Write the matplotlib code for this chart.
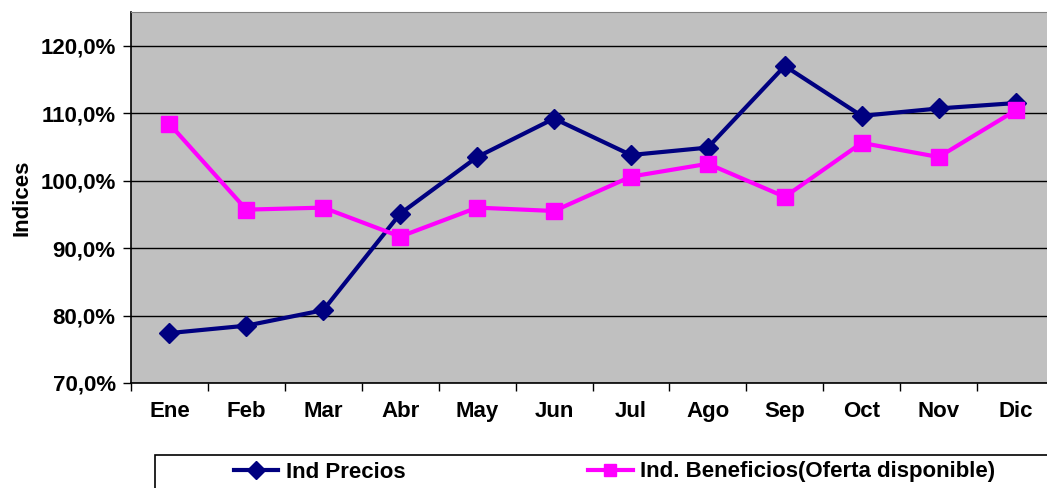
import matplotlib.pyplot as plt
from matplotlib.patches import Rectangle
from matplotlib.ticker import FuncFormatter, MultipleLocator
from matplotlib import font_manager

months = ['Ene', 'Feb', 'Mar', 'Abr', 'May', 'Jun', 'Jul', 'Ago', 'Sep', 'Oct', 'Nov', 'Dic']
ind_precios = [77.4, 78.5, 80.8, 95.1, 103.5, 109.2, 103.8, 104.9, 117.0, 109.6, 110.7, 111.5]
ind_beneficios = [108.4, 95.7, 96.0, 91.7, 96.0, 95.5, 100.6, 102.5, 97.6, 105.6, 103.5, 110.4]
series_names = ['Ind Precios', 'Ind. Beneficios(Oferta disponible)']

names = {f.name for f in font_manager.fontManager.ttflist}
font = 'Liberation Sans Narrow' if 'Liberation Sans Narrow' in names else 'Liberation Sans'
plt.rcParams['font.family'] = [font, 'DejaVu Sans']
plt.rcParams['font.weight'] = 'bold'

W, H = 1047, 488
fig = plt.figure(figsize=(W / 100, H / 100), dpi=100)
fig.patch.set_facecolor('white')

# plot area in pixels: left 131, top 12, bottom 383, right past edge
ax = fig.add_axes([131 / W, 1 - 383 / H, (1054 - 131) / W, (383 - 12) / H])
ax.set_facecolor('#c0c0c0')

x = list(range(len(months)))
ax.plot(x, ind_precios, color='#000080', lw=3, marker='D', ms=10, label=series_names[0], zorder=3)
ax.plot(x, ind_beneficios, color='#ff00ff', lw=3, marker='s', ms=11, label=series_names[1], zorder=3)

ax.set_xlim(-0.5, len(months) - 0.5)
ax.set_ylim(70, 125)
ax.yaxis.set_major_locator(MultipleLocator(10))
ax.yaxis.set_major_formatter(FuncFormatter(lambda v, p: f'{v:.1f}%'.replace('.', ',')))
ax.grid(axis='y', color='#000000', lw=1)
ax.set_axisbelow(True)

ax.set_xticks(x)
ax.set_xticklabels(months)
ax.set_xticks([i - 0.5 for i in range(len(months) + 1)], minor=True)
ax.tick_params(axis='x', which='major', length=0, pad=13, labelsize=16)
ax.tick_params(axis='x', which='minor', length=6, width=1, direction='out')
ax.tick_params(axis='y', length=6, width=1, direction='out', pad=5, labelsize=16)

for s in ['left', 'bottom']:
    ax.spines[s].set_color('black')
    ax.spines[s].set_linewidth(1.2)
ax.spines['top'].set_color('#808080')
ax.spines['right'].set_visible(False)

fig.text(22 / W, 1 - 198 / H, 'Indices', rotation=90, ha='center', va='center', fontsize=16, fontweight='bold')

# legend box, runs off the bottom and right edges
fig.patches.append(Rectangle((155 / W, -0.05), 1.0, (1 - 455 / H) + 0.05, transform=fig.transFigure,
                             facecolor='white', edgecolor='black', lw=1.2))
leg = fig.legend(loc='center left', bbox_to_anchor=(234 / W, 1 - 472 / H), ncol=2, frameon=False,
                 fontsize=16, handlelength=2.0, handletextpad=0.35, columnspacing=8.2,
                 borderpad=0, borderaxespad=0)
for h in leg.legend_handles:
    h.set_markersize(9)

fig.savefig('out.png', dpi=100)
